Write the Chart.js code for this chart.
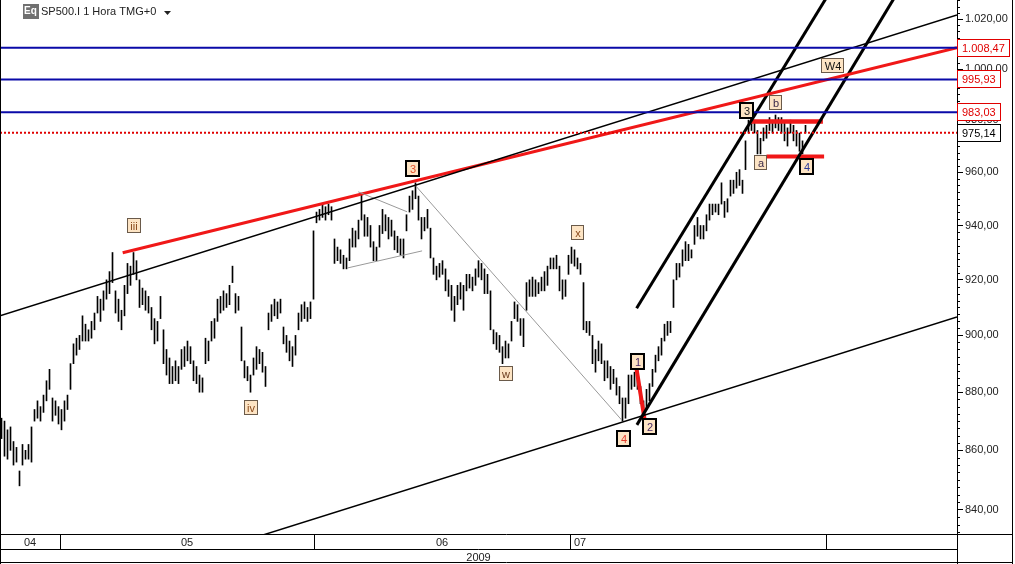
<!DOCTYPE html>
<html><head><meta charset="utf-8">
<script src="https://cdn.jsdelivr.net/npm/chart.js@4.4.1/dist/chart.umd.min.js"></script>
<style>html,body{margin:0;padding:0;background:#fff;overflow:hidden}#wrap{width:1015px;height:564px;position:relative}</style>
</head><body><div id="wrap"><canvas id="c" width="1015" height="564"></canvas></div>
<script>
// ---- data (hourly bars) ----
const lows = [
864,858,857,860,855,856,848,855,857,857,
856,870,871,870,873,877,881,870,872,869,
867,870,874,881,890,893,895,898,898,898,
899,902,908,905,909,913,915,919,908,905,
902,907,915,918,922,920,910,911,909,908,
902,897,898,906,890,886,883,883,884,883,
888,889,891,890,884,883,880,880,890,891,
898,899,905,908,909,910,911,919,908,909,
891,885,884,880,886,888,890,887,882,902,
905,907,906,908,897,894,891,889,893,902,
905,906,905,906,913,941,942,943,942,944,
942,926,927,926,924,924,927,932,932,935,
942,936,936,932,927,927,932,937,938,935,
936,931,930,929,928,938,945,946,950,942,
935,938,939,928,922,920,921,922,916,914,
909,905,911,913,909,916,917,916,918,921,
920,915,915,902,897,895,894,890,892,892,
898,906,905,900,896,909,914,914,914,915,
916,916,918,924,924,924,916,913,914,922,
926,925,924,922,902,901,900,890,887,891,
890,884,885,881,883,879,876,870,871,876,
881,882,881,876,871,874,877,882,887,891,
893,898,900,901,910,920,921,925,927,927,
928,933,936,935,935,938,942,944,945,944,
948,943,945,951,952,954,955,952,961,975,
976,975,967,967,972,973,976,975,977,976,
975,972,970,975,972,970,968,967,975];
const highs = [
871,870,867,868,863,861,853,862,860,862,
868,874,877,875,879,884,888,878,877,875,
874,877,879,890,897,899,900,907,904,902,
905,908,914,913,916,920,923,930,916,913,
909,918,926,925,930,927,920,917,916,914,
910,906,905,914,902,895,892,889,891,889,
895,896,898,896,891,889,886,885,899,898,
905,906,913,914,916,915,918,925,915,914,
903,891,889,886,892,896,895,894,889,908,
911,913,912,913,903,900,898,896,900,908,
911,912,910,912,938,945,946,948,947,948,
947,935,932,931,929,928,935,939,938,942,
952,944,943,940,934,932,940,946,944,943,
942,938,936,935,935,944,951,953,956,951,
943,943,946,939,928,925,926,927,924,920,
918,914,918,919,918,922,922,921,924,927,
926,924,922,916,902,901,900,896,898,897,
905,912,911,906,906,919,920,921,920,919,
921,923,925,928,928,929,925,920,920,929,
932,931,928,926,919,905,905,900,895,898,
897,891,891,889,888,885,882,878,878,886,
886,887,888,882,877,881,883,888,893,896,
899,904,905,905,920,926,926,931,934,933,
931,940,943,940,940,944,948,948,948,948,
956,949,950,957,957,960,961,957,972,980,
980,980,976,973,977,978,981,980,982,981,
981,979,977,980,978,976,975,972,978];
const yTicks = [840,860,880,900,920,940,960,980,1000,1020];
const levels = [1008.47, 995.93, 983.03];
const lastPrice = 975.14;
const axisMarks = [1008.47, 995.93, 983.03, 975.14];
const monthLabels = ['04','05','06','07',''];
const monthBounds = [-0.5, 19.5, 104.2, 189.5, 274.8, 318.5];
const yearLabel = '2009';
const waveText  = ['iii','3','iv','w','x','4','1','2','3','b','a','4','W4'];
const waveIdx   = [44.2,137.3,83.2,168.2,192.1,207.6,212.1,216.1,248.4,258.2,253.2,268.5,277.1];
const wavePrice = [939.9,961.2,874.5,886.4,937.1,863.9,890.7,867.9,983.5,986.8,963.4,962.1,1001.2];
// trend lines [x1, price1, x2, price2]
const channelUpper = [-0.5, 907.0, 318.5, 1021.6];
const channelLower = [66.2, 825.2, 318.5, 906.6];
const resistance   = [40.4, 929.9, 318.5, 1008.47];
const rangeTop     = [249.5, 979.5, 273.8, 979.5];
const rangeBottom  = [255.0, 966.0, 274.2, 966.0];
const wave12       = [211.7, 888.0, 214.3, 871.0];
const steepLeft    = [211.7, 909.7, 278.6, 1035.9];
const steepRight   = [211.8, 868.7, 301.2, 1035.9];
const diagGray     = [137.8, 955.2, 206.7, 870.4];
const triLow       = [115.2, 924.3, 140.2, 930.6];
const triHigh      = [118.9, 952.6, 135.2, 945.1];

// ---- styles ----
const FONT = '"Liberation Sans", Arial, sans-serif';
const XMIN = -0.5, XMAX = 318.5, YMIN = 832.0, YMAX = 1027.7;
const waveStyle = [
  {fg:'#8a4a1c',thick:false},{fg:'#e4502a',thick:true},{fg:'#8a4a1c',thick:false},
  {fg:'#6a3a1c',thick:false},{fg:'#8a4a1c',thick:false},{fg:'#e43a2a',thick:true},
  {fg:'#4a2a66',thick:true},{fg:'#4a2a66',thick:true},{fg:'#222',thick:true},
  {fg:'#3a2a4a',thick:false},{fg:'#3a2a4a',thick:false},{fg:'#2a3a9a',thick:true},
  {fg:'#111',thick:false}
];
const markStyle = ['#e00000','#e00000','#e00000','#000'];
const monthAlign = ['center','center','center','left','center'];

function fmt(v){
  const p = Number(v).toFixed(2).split('.');
  return p[0].replace(/\B(?=(\d{3})+(?!\d))/g,'.') + ',' + p[1];
}
function seg(a, color, width, dash){
  return {type:'line', data:[{x:a[0],y:a[1]},{x:a[2],y:a[3]}], borderColor:color, borderWidth:width,
    borderDash:dash||[], pointRadius:0, fill:false, tension:0, order:1, borderCapStyle:'butt'};
}

const barData = lows.map((l,i)=>({x:i, y:[l, highs[i]]}));
const datasets = [
  {type:'bar', data:barData, backgroundColor:'#000', borderWidth:0, barThickness:1, order:10},
  ...levels.map(l=>seg([XMIN,l,XMAX,l],'#0a0aa8',2)),
  seg([XMIN,lastPrice,XMAX,lastPrice],'#e00000',2,[2,2]),
  seg(channelUpper,'#000',1.5),
  seg(channelLower,'#000',1.5),
  seg(diagGray,'#999',1),
  seg(triLow,'#999',1),
  seg(triHigh,'#999',1),
  seg(resistance,'#f01818',3),
  seg(steepLeft,'#000',3),
  seg(steepRight,'#000',3),
  seg(rangeTop,'#f01818',4.5),
  seg(rangeBottom,'#f01818',4),
  seg(wave12,'#f01818',4),
];

const overlay = {
  id:'overlay',
  afterDatasetsDraw(chart){
    const ctx = chart.ctx, xs = chart.scales.x, ys = chart.scales.y;
    ctx.save();
    ctx.font = '11px ' + FONT;
    ctx.textAlign='center'; ctx.textBaseline='middle';
    waveText.forEach((t,i)=>{
      const px = Math.round(xs.getPixelForValue(waveIdx[i]));
      const py = Math.round(ys.getPixelForValue(wavePrice[i]));
      const st = waveStyle[i];
      const w = Math.max(13, Math.ceil(ctx.measureText(t).width)+6), h = 15;
      const x0 = px - Math.round(w/2), y0 = py - Math.round(h/2);
      ctx.fillStyle = '#fde4c4';
      ctx.fillRect(x0, y0, w, h);
      if (st.thick){ ctx.lineWidth=2; ctx.strokeStyle='#000'; ctx.strokeRect(x0, y0, w, h); }
      else { ctx.lineWidth=1; ctx.strokeStyle='#6a5a4a'; ctx.strokeRect(x0+0.5, y0+0.5, w-1, h-1); }
      ctx.fillStyle = st.fg;
      ctx.fillText(t, px, py+1);
    });
    ctx.restore();
  },
  afterDraw(chart){
    const ctx = chart.ctx, xs = chart.scales.x, ys = chart.scales.y, ca = chart.chartArea;
    ctx.save();
    // minor ticks
    ctx.strokeStyle='#000'; ctx.lineWidth=1;
    for (let v=832.5; v<YMAX; v+=2.5){
      if (Math.abs(v/20-Math.round(v/20))<1e-6) continue;
      const y = Math.round(ys.getPixelForValue(v))+0.5;
      ctx.beginPath(); ctx.moveTo(ca.right, y); ctx.lineTo(ca.right+3, y); ctx.stroke();
    }
    // price boxes on axis
    ctx.font = '11px ' + FONT; ctx.textBaseline='middle'; ctx.textAlign='left';
    axisMarks.forEach((v,i)=>{
      const y = Math.round(ys.getPixelForValue(v));
      const t = fmt(v), w = Math.ceil(ctx.measureText(t).width)+9;
      ctx.fillStyle='#fff'; ctx.fillRect(ca.right+1, y-9, w, 18);
      ctx.strokeStyle=markStyle[i]; ctx.lineWidth=1;
      ctx.strokeRect(ca.right+0.5, y-8.5, w, 17);
      ctx.fillStyle=markStyle[i]; ctx.fillText(t, ca.right+5, y+1);
    });
    // frame and bottom time panel
    const W = chart.width, H = chart.height, r = ca.right+0.5, B = ca.bottom+0.5;
    ctx.strokeStyle='#000'; ctx.lineWidth=1;
    ctx.beginPath();
    ctx.moveTo(0.5,0); ctx.lineTo(0.5,H);
    ctx.moveTo(W-2.5,0); ctx.lineTo(W-2.5,H);
    ctx.moveTo(0,B); ctx.lineTo(W-2,B);
    ctx.moveTo(0,B+15); ctx.lineTo(r,B+15);
    ctx.moveTo(0,H-1.5); ctx.lineTo(W-2,H-1.5);
    ctx.moveTo(r,B); ctx.lineTo(r,H);
    ctx.stroke();
    ctx.fillStyle='#222'; ctx.font='11px '+FONT; ctx.textBaseline='middle';
    for (let i=0;i<monthLabels.length;i++){
      const a = Math.max(ca.left, xs.getPixelForValue(monthBounds[i]));
      const b = Math.min(ca.right, xs.getPixelForValue(monthBounds[i+1]));
      if (i>0){ const x=Math.round(a)+0.5; ctx.beginPath(); ctx.moveTo(x,B); ctx.lineTo(x,B+15); ctx.stroke(); }
      if (!monthLabels[i]) continue;
      if (monthAlign[i]==='left'){ ctx.textAlign='left'; ctx.fillText(monthLabels[i], a+4, B+8); }
      else { ctx.textAlign='center'; ctx.fillText(monthLabels[i], (a+b)/2, B+8); }
    }
    ctx.textAlign='center';
    ctx.fillText(yearLabel, (ca.left+ca.right)/2, B+23);
    // title
    ctx.fillStyle='#707070'; ctx.fillRect(23,4,16,15);
    ctx.fillStyle='#fff'; ctx.font='bold 10px '+FONT; ctx.textAlign='left';
    ctx.fillText('Eq', 24, 11);
    ctx.fillStyle='#222'; ctx.font='11px '+FONT;
    ctx.fillText('SP500.I 1 Hora TMG+0', 41, 12);
    ctx.beginPath(); ctx.moveTo(164,11); ctx.lineTo(171,11); ctx.lineTo(167.5,15); ctx.closePath(); ctx.fill();
    ctx.restore();
  }
};

Chart.defaults.font.family = FONT;
new Chart(document.getElementById('c'), {
  type:'bar',
  data:{datasets},
  options:{
    responsive:false, animation:false, devicePixelRatio:1,
    layout:{padding:{top:0,left:0,right:0,bottom:30}},
    plugins:{legend:{display:false}, tooltip:{enabled:false}},
    scales:{
      x:{type:'linear', min:XMIN, max:XMAX, display:false, offset:false},
      y:{type:'logarithmic', position:'right', min:YMIN, max:YMAX,
        afterBuildTicks:(s)=>{ s.ticks = yTicks.map(v=>({value:v})); },
        afterFit:(s)=>{ s.width = 58; s.paddingTop = 0; s.paddingBottom = 0; },
        ticks:{callback:(v)=>fmt(v), color:'#222', font:{size:11, family:FONT}, padding:2, autoSkip:false, maxRotation:0},
        grid:{drawOnChartArea:false, drawTicks:true, tickLength:6, color:'#000'},
        border:{display:true, color:'#000', width:1}
      }
    }
  },
  plugins:[overlay]
});
</script></body></html>
